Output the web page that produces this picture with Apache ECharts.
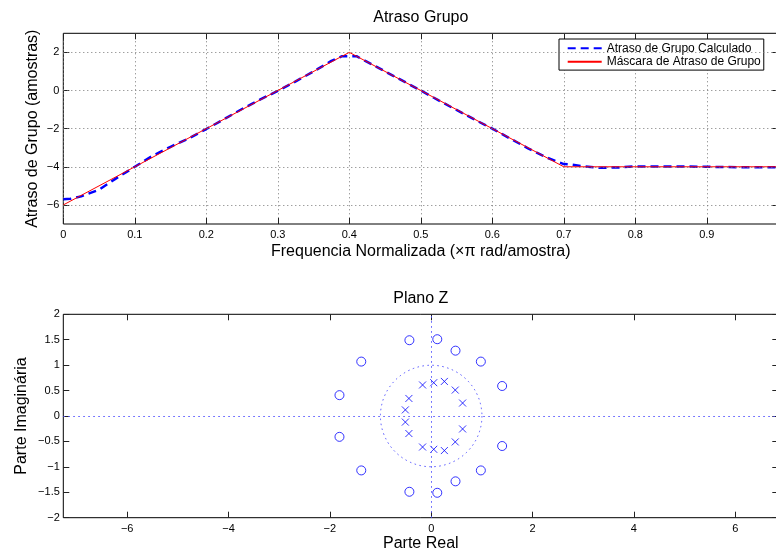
<!DOCTYPE html>
<html>
<head>
<meta charset="utf-8">
<script src="https://cdn.jsdelivr.net/npm/echarts@6/dist/echarts.min.js"></script>
<style>html,body{margin:0;padding:0;background:#fff}#c{width:776px;height:555px}</style>
</head>
<body>
<div id="c"></div>
<script>
// ---- data: group delay ----
const freq = [0, 0.01, 0.025, 0.05, 0.075, 0.1, 0.125, 0.15, 0.175, 0.2, 0.225, 0.25, 0.275, 0.3, 0.325, 0.35, 0.375, 0.39, 0.41, 0.425, 0.45, 0.475, 0.5, 0.525, 0.55, 0.575, 0.6, 0.625, 0.65, 0.675, 0.7, 0.71, 0.725, 0.75, 0.775, 0.8, 0.825, 0.85, 0.875, 0.9, 0.925, 0.95, 0.975, 1.0];
const groupDelayCalc = [-5.7, -5.68, -5.55, -5.2, -4.58, -4.0, -3.42, -2.95, -2.52, -2.02, -1.5, -0.97, -0.48, -0.02, 0.48, 1.0, 1.55, 1.8, 1.8, 1.5, 1.0, 0.5, 0.0, -0.52, -1.02, -1.52, -2.0, -2.52, -3.03, -3.5, -3.86, -3.88, -3.96, -4.05, -4.04, -3.98, -3.98, -3.98, -3.99, -4.0, -4.01, -4.03, -4.03, -4.03];
const maskFreq = [0, 0.4, 0.7, 1];
const maskDelay = [-6, 2, -4, -4];
const topYTicks = [-6, -4, -2, 0, 2];

// ---- data: pole/zero plot ----
const zeroRe = [-1.81, -1.81, -1.38, -1.38, -0.43, -0.43, 0.12, 0.12, 0.48, 0.48, 0.98, 0.98, 1.4, 1.4];
const zeroIm = [0.41, -0.41, 1.07, -1.07, 1.49, -1.49, 1.51, -1.51, 1.285, -1.285, 1.07, -1.07, 0.59, -0.59];
const poleRe = [-0.51, -0.51, -0.44, -0.44, -0.17, -0.17, 0.05, 0.05, 0.26, 0.26, 0.475, 0.475, 0.62, 0.62];
const poleIm = [0.12, -0.12, 0.345, -0.345, 0.61, -0.61, 0.655, -0.655, 0.68, -0.68, 0.51, -0.51, 0.255, -0.255];
const zXTicks = [-6, -4, -2, 0, 2, 4, 6];
const unitCircle = [[0, 0, 1]];

const FONT = '"Liberation Sans", Arial, Helvetica, sans-serif';
const minus = v => String(v).replace('-', '\u2212');
const zip = (a, b) => a.map((v, i) => [v, b[i]]);

const chart = echarts.init(document.getElementById('c'), null, {renderer: 'canvas'});

const tickStyle = {show: true, inside: true, length: 6, lineStyle: {color: '#222', width: 1}};
const noLine = {show: false, onZero: false};
const lblStyle = {color: '#000', fontSize: 11, fontFamily: FONT};
const gridDot = {color: '#777', width: 1, type: [1, 3]};
const blueDot = {color: '#5050ff', width: 1, type: [1.5, 3.5]};

const option = {
  animation: false,
  textStyle: {fontFamily: FONT},
  grid: [
    {left: 63.3, top: 33.3, width: 715, height: 190.7, show: true, borderColor: '#000', borderWidth: 1, containLabel: false, outerBoundsMode: 'none'},
    {left: 63.3, top: 314.3, width: 715, height: 203.4, show: true, borderColor: '#000', borderWidth: 1, containLabel: false, outerBoundsMode: 'none'}
  ],
  legend: {
    orient: 'vertical', left: 559, top: 39,
    padding: [3.3, 3, 2.3, 7.7], itemWidth: 34, itemHeight: 12, itemGap: 1.5,
    backgroundColor: '#fff', borderColor: '#000', borderWidth: 1, borderRadius: 0,
    itemStyle: {opacity: 0},
    textStyle: {fontSize: 12, color: '#000', fontFamily: FONT},
    data: ['Atraso de Grupo Calculado', 'Máscara de Atraso de Grupo']
  },
  graphic: [
    {type: 'text', x: 420.8, y: 17.5, style: {text: 'Atraso Grupo', font: '16px ' + FONT, fill: '#000', textAlign: 'center', textVerticalAlign: 'middle'}},
    {type: 'text', x: 420.8, y: 251.5, style: {text: 'Frequencia Normalizada (\u00d7\u03c0 rad/amostra)', font: '16px ' + FONT, fill: '#000', textAlign: 'center', textVerticalAlign: 'middle'}},
    {type: 'text', x: 32.5, y: 128.7, rotation: Math.PI / 2, style: {text: 'Atraso de Grupo (amostras)', font: '16px ' + FONT, fill: '#000', textAlign: 'center', textVerticalAlign: 'middle'}},
    {type: 'text', x: 420.8, y: 299, style: {text: 'Plano Z', font: '16px ' + FONT, fill: '#000', textAlign: 'center', textVerticalAlign: 'middle'}},
    {type: 'text', x: 420.8, y: 543.3, style: {text: 'Parte Real', font: '16px ' + FONT, fill: '#000', textAlign: 'center', textVerticalAlign: 'middle'}},
    {type: 'text', x: 22, y: 416, rotation: Math.PI / 2, style: {text: 'Parte Imaginária', font: '16px ' + FONT, fill: '#000', textAlign: 'center', textVerticalAlign: 'middle'}}
  ],
  xAxis: [
    {type: 'value', gridIndex: 0, position: 'bottom', min: 0, max: 1, interval: 0.1,
     axisLine: noLine, axisTick: tickStyle, axisLabel: Object.assign({margin: 5}, lblStyle),
     splitLine: {show: true, lineStyle: gridDot}},
    {type: 'value', gridIndex: 0, position: 'top', min: 0, max: 1, interval: 0.1,
     axisLine: noLine, axisTick: tickStyle, axisLabel: {show: false}, splitLine: {show: false}},
    {type: 'value', gridIndex: 1, position: 'bottom', min: -7.26, max: 6.85,
     axisLine: noLine,
     axisTick: Object.assign({customValues: zXTicks}, tickStyle),
     axisLabel: Object.assign({margin: 6, customValues: zXTicks, formatter: minus}, lblStyle),
     splitLine: {show: false}},
    {type: 'value', gridIndex: 1, position: 'top', min: -7.26, max: 6.85,
     axisLine: noLine,
     axisTick: Object.assign({customValues: zXTicks}, tickStyle),
     axisLabel: {show: false}, splitLine: {show: false}}
  ],
  yAxis: [
    {type: 'value', gridIndex: 0, position: 'left', min: -7, max: 3,
     axisLine: noLine,
     axisTick: Object.assign({customValues: topYTicks}, tickStyle),
     axisLabel: Object.assign({margin: 4, customValues: topYTicks, formatter: minus}, lblStyle),
     splitLine: {show: false}},
    {type: 'value', gridIndex: 0, position: 'right', min: -7, max: 3,
     axisLine: noLine,
     axisTick: Object.assign({customValues: topYTicks}, tickStyle),
     axisLabel: {show: false}, splitLine: {show: false}},
    {type: 'value', gridIndex: 1, position: 'left', min: -2, max: 2, interval: 0.5,
     axisLine: noLine, axisTick: tickStyle,
     axisLabel: Object.assign({margin: 3.5, formatter: minus}, lblStyle),
     splitLine: {show: false}},
    {type: 'value', gridIndex: 1, position: 'right', min: -2, max: 2, interval: 0.5,
     axisLine: noLine, axisTick: tickStyle, axisLabel: {show: false}, splitLine: {show: false}}
  ],
  series: [
    {type: 'line', name: '_grid', xAxisIndex: 0, yAxisIndex: 0, data: zip(maskFreq, maskDelay),
     symbol: 'none', lineStyle: {opacity: 0}, silent: true, z: 1,
     markLine: {silent: true, symbol: ['none', 'none'], label: {show: false}, lineStyle: gridDot,
       emphasis: {disabled: true},
       data: topYTicks.map(v => ({yAxis: v}))}},
    {type: 'line', name: 'Atraso de Grupo Calculado', xAxisIndex: 0, yAxisIndex: 0,
     data: zip(freq, groupDelayCalc), symbol: 'none', smooth: false,
     lineStyle: {color: '#0000ff', width: 2.5, type: [8, 5]}, itemStyle: {color: '#0000ff'}, z: 3},
    {type: 'line', name: 'Máscara de Atraso de Grupo', xAxisIndex: 0, yAxisIndex: 0,
     data: zip(maskFreq, maskDelay), symbol: 'none',
     lineStyle: {color: '#ff0000', width: 1}, itemStyle: {color: '#ff0000'}, z: 4},
    {type: 'line', name: '_axes', xAxisIndex: 2, yAxisIndex: 2, data: zip(zeroRe, zeroIm),
     symbol: 'none', lineStyle: {opacity: 0}, silent: true, z: 1,
     markLine: {silent: true, symbol: ['none', 'none'], label: {show: false}, lineStyle: blueDot,
       emphasis: {disabled: true},
       data: [{yAxis: 0}, {xAxis: 0}]}},
    {type: 'custom', name: '_circle', xAxisIndex: 2, yAxisIndex: 2, data: unitCircle, silent: true, z: 1,
     renderItem: function (params, api) {
       const c = api.coord([api.value(0), api.value(1)]);
       const r = api.size([api.value(2), api.value(2)]);
       return {type: 'circle', shape: {cx: c[0], cy: c[1], r: (r[0] + r[1]) / 2},
               style: {fill: 'none', stroke: blueDot.color, lineWidth: 1, lineDash: blueDot.type}};
     }},
    {type: 'scatter', name: 'zeros', xAxisIndex: 2, yAxisIndex: 2, data: zip(zeroRe, zeroIm),
     symbol: 'circle', symbolSize: 9, itemStyle: {color: 'none', borderColor: '#0000ff', borderWidth: 1}, z: 3},
    {type: 'scatter', name: 'poles', xAxisIndex: 2, yAxisIndex: 2, data: zip(poleRe, poleIm),
     symbol: 'path://M0,0L10,10M10,0L0,10', symbolSize: 7,
     itemStyle: {color: 'none', borderColor: '#0000ff', borderWidth: 1}, z: 3}
  ]
};
chart.setOption(option);
</script>
</body>
</html>
